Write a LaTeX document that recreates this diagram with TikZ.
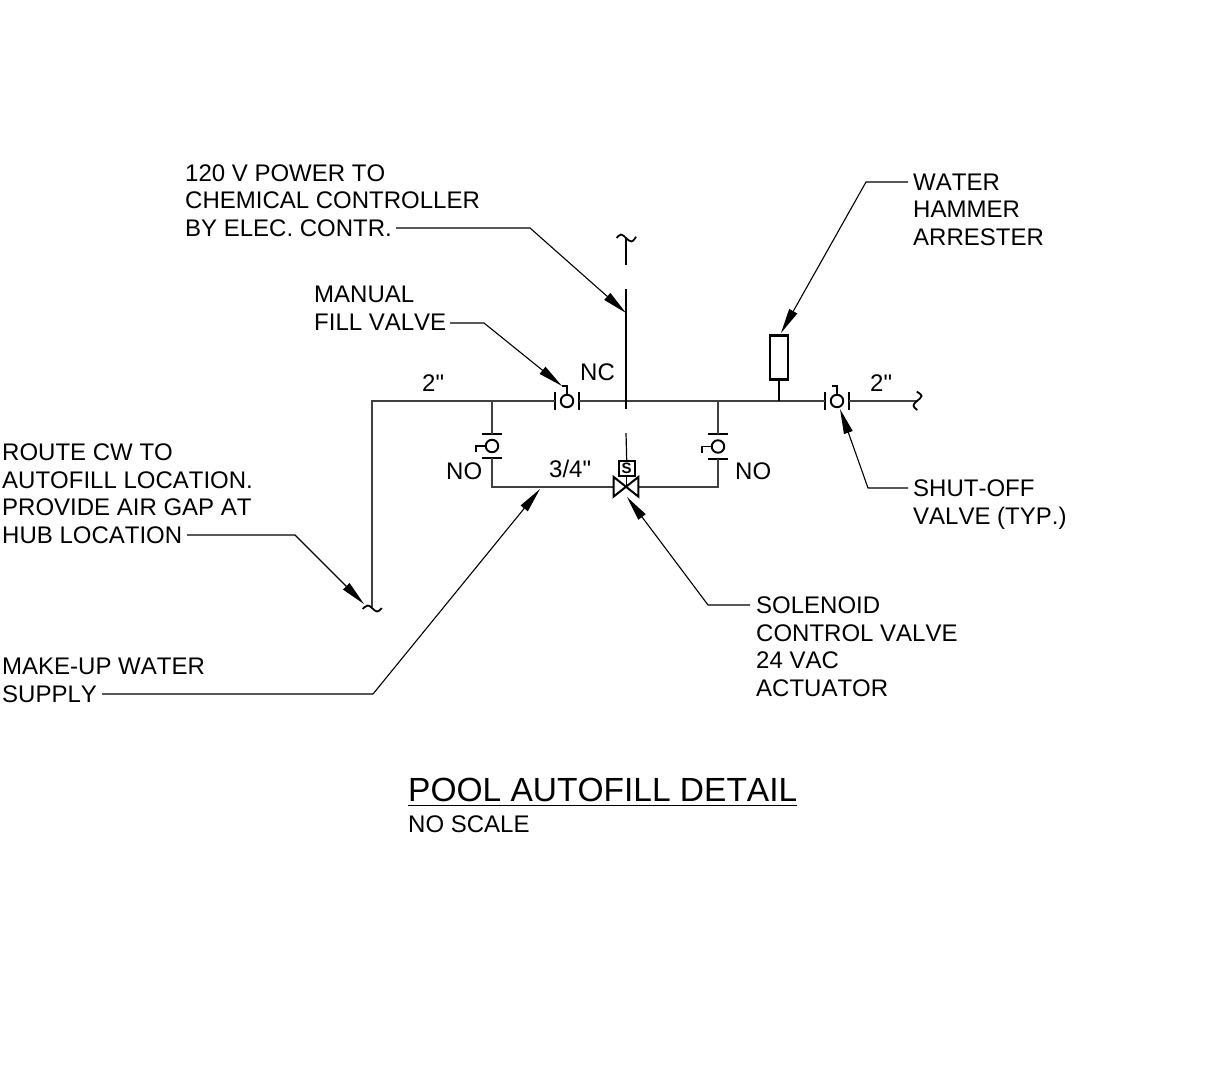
\documentclass[tikz,border=0pt]{standalone}
\usepackage{fontspec}
\setmainfont[Kerning=Off,Ligatures=TeXOff]{Liberation Sans}
\usetikzlibrary{arrows.meta,calc}
\tikzset{
  x=1pt,y=-1pt,
  lbl/.style={anchor=base west,inner sep=0pt,align=left,font=\fontsize{24}{27.4}\selectfont},
  pipe/.style={line width=1.8pt,draw=black!75},
  bar/.style={line width=2.2pt,draw=black},
  wave/.style={line width=1.8pt,draw=black,smooth,tension=0.8},
  valvebody/.style={circle,draw=black,line width=1.9pt,inner sep=0pt,minimum size=12.5pt},
  wire/.style={line width=1.2pt,draw=black},
  leader/.style={line width=1.1pt,draw=black,-{Triangle[length=25pt,width=9pt]},shorten >=0pt}
}
\begin{document}
\begin{tikzpicture}
\useasboundingbox (0,0) rectangle (1210,1066);
\fill[white] (0,0) rectangle (1210,1066);

% pipe junctions and ends
\coordinate (corner) at (372,401);
\coordinate (endL) at (372,607);
\coordinate (endR) at (917,401);
\coordinate (jA) at (492,401);
\coordinate (jB) at (718,401);
\coordinate (jH) at (779,401);
\coordinate (cL) at (492,487);
\coordinate (cR) at (718,487);

% valves
\node[valvebody] (vManual) at (567,401) {};
\node[valvebody] (vShut) at (837,401) {};
\node[valvebody] (vLeft) at (492,446) {};
\node[valvebody] (vRight) at (718,446.5) {};
\coordinate (sol) at (626,487);

% horizontal valve bars and stems
\foreach \v/\sx in {vManual/-5,vShut/-5}{
  \draw[bar] ($(\v)+(-12.2,-9)$) -- ($(\v)+(-12.2,9)$);
  \draw[bar] ($(\v)+(12.2,-9)$) -- ($(\v)+(12.2,9)$);
  \draw[line width=1.8pt] (\v.north) -- ++(0,-8) -- ++(\sx,0);
}
% vertical valve bars and stems
\foreach \v in {vLeft,vRight}{
  \draw[bar] ($(\v)+(-10,-12.2)$) -- ($(\v)+(10,-12.2)$);
  \draw[bar] ($(\v)+(-10,12.2)$) -- ($(\v)+(10,12.2)$);
  \draw[line width=1.8pt] (\v.west) -- ++(-8.5,0) -- ++(0,6);
}

% pipes
\draw[pipe] (endL) -- (corner) -- ($(vManual)+(-12.2,0)$);
\draw[pipe] ($(vManual)+(12.2,0)$) -- ($(vShut)+(-12.2,0)$);
\draw[pipe] ($(vShut)+(12.2,0)$) -- (endR);
\draw[pipe] (jA) -- ($(vLeft)+(0,-12.2)$);
\draw[pipe] (jB) -- ($(vRight)+(0,-12.2)$);
\draw[pipe] ($(vLeft)+(0,12.2)$) -- (cL) -- ($(sol)+(-12.5,0)$);
\draw[pipe] ($(vRight)+(0,12.2)$) -- (cR) -- ($(sol)+(12.5,0)$);

% solenoid valve
\draw[line width=2pt,line join=miter] ($(sol)+(-12.3,-10)$) -- ($(sol)+(12.3,9.5)$) -- ($(sol)+(12.3,-10)$) -- ($(sol)+(-12.3,9.5)$) -- cycle;
\node[draw=black,line width=1.9pt,minimum width=16pt,minimum height=15pt,inner sep=0pt,font=\fontsize{15}{15}\bfseries\selectfont] (sbox) at (626.7,468.5) {S};
\draw[wire] (sbox.south) -- (626.7,487);

% control wiring
\coordinate (wTop) at (626,238);
\coordinate (wA) at (626,265);
\coordinate (wB) at (626,289);
\coordinate (wC) at (626,409);
\coordinate (wD) at (626,433);
\draw[wire] (wTop) -- (wA);
\draw[wire] (wB) -- (wC);
\draw[wire] (wD) -- (sbox.north);

% break marks
\draw[wave] plot coordinates {(362.7,609) (367.5,605.5) (372,608) (377,611.5) (381.7,608)};
\draw[wave] plot coordinates {(616.7,238) (621,234.5) (626,238) (631.5,241.5) (636,236.7)};
\draw[wave] plot coordinates {(916.7,391.7) (921.5,396) (917,401) (913.5,405.5) (917.3,410)};

% arrester
\node[draw=black,line width=2.8pt,minimum width=18pt,minimum height=44.5pt,inner sep=0pt] (arr) at (779,357.5) {};
\draw[line width=2.8pt] (arr.south) -- (jH);

% labels (anchored at the baseline of the last line)
\node[lbl] (tCtrl) at (185,236) {120 V POWER TO\\CHEMICAL CONTROLLER\\BY ELEC. CONTR.};
\node[lbl] (tManual) at (314,330) {MANUAL\\FILL VALVE};
\node[lbl] (tHammer) at (913,245) {WATER\\HAMMER\\ARRESTER};
\node[lbl] (tRoute) at (2,543) {ROUTE CW TO\\AUTOFILL LOCATION.\\PROVIDE AIR GAP AT\\HUB LOCATION};
\node[lbl] (tMake) at (2,702) {MAKE-UP WATER\\SUPPLY};
\node[lbl] (tShut) at (913,524) {SHUT-OFF\\VALVE (TYP.)};
\node[lbl] (tSol) at (756,696) {SOLENOID\\CONTROL VALVE\\24 VAC\\ACTUATOR};
\node[lbl] (tTwoA) at (422,391) {2"};
\node[lbl] (tTwoB) at (870,391) {2"};
\node[lbl] (tNC) at (580,380) {NC};
\node[lbl] (tNOa) at (446,479.5) {NO};
\node[lbl] (tNOb) at (735,479.5) {NO};
\node[lbl] (tSize) at (549,477) {3/4"};
\node[lbl,font=\fontsize{33.5}{33.5}\selectfont] (tTitle) at (408,801) {POOL AUTOFILL DETAIL};
\draw[line width=1.6pt] (tTitle.base west) ++(0,4.5) -- (797,805.5);
\node[lbl] (tScale) at (408,832) {NO SCALE};

% leaders
\coordinate (sCtrl) at (396,228);
\coordinate (sManual) at (450,323);
\coordinate (sHammer) at (908,182);
\coordinate (sRoute) at (187,535);
\coordinate (sMake) at (102,694);
\coordinate (sShut) at (908,488);
\coordinate (sSol) at (750,605);
\coordinate (aCtrl) at (626,313);
\coordinate (aManual) at (562,386);
\coordinate (aHammer) at (781,333);
\coordinate (aRoute) at (364,604);
\coordinate (aMake) at (540,489);
\coordinate (aShut) at (840,409);
\coordinate (aSol) at (627,497);
\draw[leader] (sCtrl) -- (530,228) -- (aCtrl);
\draw[leader] (sManual) -- (484,323) -- (aManual);
\draw[leader] (sHammer) -- (866,182) -- (aHammer);
\draw[leader] (sRoute) -- (295,535) -- (aRoute);
\draw[leader] (sMake) -- (373,694) -- (aMake);
\draw[leader] (sShut) -- (868,488) -- (aShut);
\draw[leader] (sSol) -- (708,605) -- (aSol);
\end{tikzpicture}
\end{document}
